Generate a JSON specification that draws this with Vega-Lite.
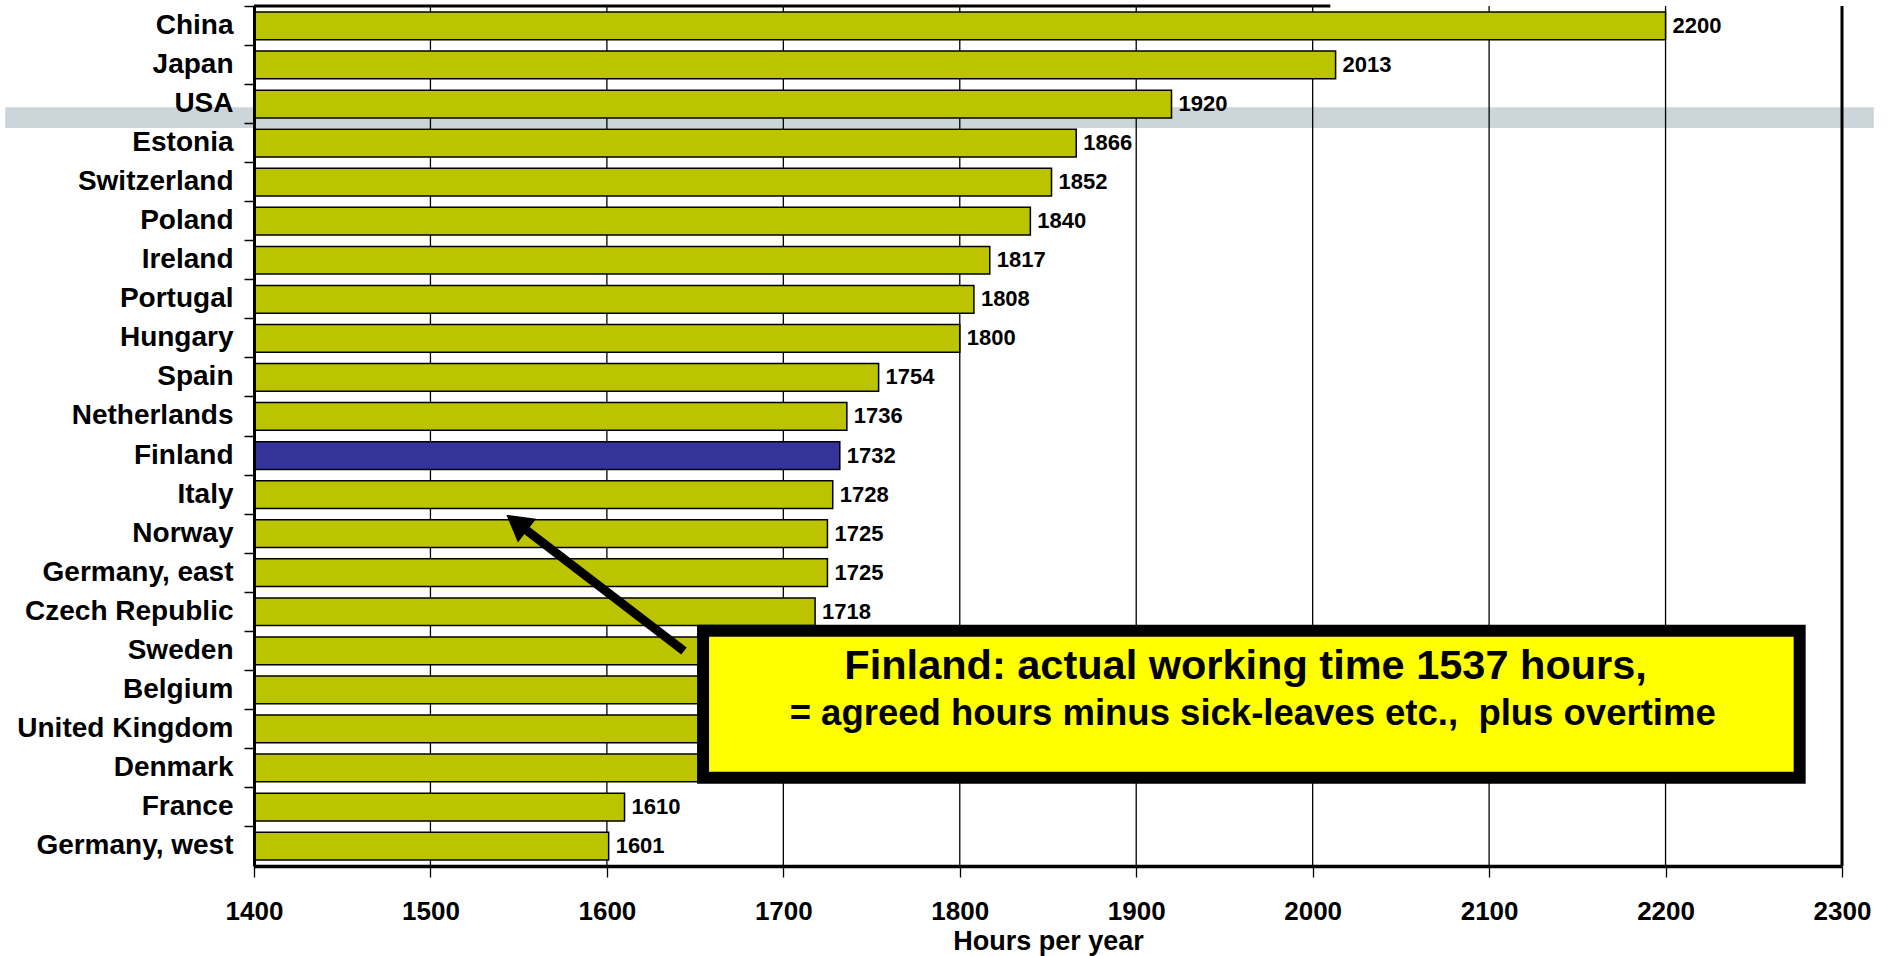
{
  "$schema": "https://vega.github.io/schema/vega-lite/v6.json",
  "width": 1588,
  "height": 860,
  "autosize": {"type": "none"},
  "padding": {"left": 254, "top": 6, "right": 49, "bottom": 90},
  "background": "white",
  "config": {
    "view": {"stroke": null},
    "font": "Liberation Sans",
    "axis": {
      "labelFont": "Liberation Sans",
      "titleFont": "Liberation Sans",
      "labelFontWeight": "bold",
      "titleFontWeight": "bold",
      "labelColor": "black",
      "titleColor": "black",
      "domainColor": "black",
      "tickColor": "black",
      "grid": false,
      "zindex": 1
    },
    "axisX": {
      "tickSize": 11,
      "tickWidth": 1.3,
      "domainWidth": 3.5,
      "labelFontSize": 26,
      "labelPadding": 21,
      "labelFlush": false,
      "labelOverlap": false,
      "titleFontSize": 27,
      "titlePadding": 4
    },
    "axisY": {
      "tickSize": 10,
      "tickWidth": 1.5,
      "domainWidth": 3,
      "labelFontSize": 28,
      "labelPadding": 11,
      "bandPosition": -0.204,
      "labelLimit": 400
    }
  },
  "datasets": {
    "hours": [
      {"country": "China", "hours": 2200, "group": "other"},
      {"country": "Japan", "hours": 2013, "group": "other"},
      {"country": "USA", "hours": 1920, "group": "other"},
      {"country": "Estonia", "hours": 1866, "group": "other"},
      {"country": "Switzerland", "hours": 1852, "group": "other"},
      {"country": "Poland", "hours": 1840, "group": "other"},
      {"country": "Ireland", "hours": 1817, "group": "other"},
      {"country": "Portugal", "hours": 1808, "group": "other"},
      {"country": "Hungary", "hours": 1800, "group": "other"},
      {"country": "Spain", "hours": 1754, "group": "other"},
      {"country": "Netherlands", "hours": 1736, "group": "other"},
      {"country": "Finland", "hours": 1732, "group": "Finland"},
      {"country": "Italy", "hours": 1728, "group": "other"},
      {"country": "Norway", "hours": 1725, "group": "other"},
      {"country": "Germany, east", "hours": 1725, "group": "other"},
      {"country": "Czech Republic", "hours": 1718, "group": "other"},
      {"country": "Sweden", "hours": 1714, "group": "other"},
      {"country": "Belgium", "hours": 1688, "group": "other"},
      {"country": "United Kingdom", "hours": 1673, "group": "other"},
      {"country": "Denmark", "hours": 1665, "group": "other"},
      {"country": "France", "hours": 1610, "group": "other"},
      {"country": "Germany, west", "hours": 1601, "group": "other"}
    ],
    "grid": [
      {"h": 1500}, {"h": 1600}, {"h": 1700}, {"h": 1800},
      {"h": 1900}, {"h": 2000}, {"h": 2100}, {"h": 2200}
    ]
  },
  "layer": [
    {
      "layer": [
        {
          "data": {"values": [{}]},
          "mark": {"type": "rect", "color": "#CCD5DA"},
          "encoding": {
            "x": {"datum": 1259, "type": "quantitative", "scale": {"domain": [1400, 2300], "nice": false, "zero": false}, "title": "Hours per year", "axis": {"values": [1400, 1500, 1600, 1700, 1800, 1900, 2000, 2100, 2200, 2300], "format": "d", "zindex": 2}},
            "x2": {"datum": 2318},
            "y": {"datum": 2.59, "type": "quantitative", "scale": {"domain": [0, 22], "reverse": true, "nice": false, "zero": false}, "axis": null},
            "y2": {"datum": 3.12}
          }
        },
        {
          "data": {"name": "grid"},
          "mark": {"type": "rule", "color": "black", "strokeWidth": 1.3},
          "encoding": {
            "x": {"field": "h", "type": "quantitative", "title": "Hours per year"}
          }
        },
        {
          "data": {"values": [{"h": 2300}]},
          "mark": {"type": "rule", "color": "black", "strokeWidth": 3},
          "encoding": {
            "x": {"field": "h", "type": "quantitative", "title": "Hours per year"}
          }
        }
      ]
    },
    {
      "data": {"name": "hours"},
      "layer": [
        {
          "mark": {"type": "bar", "stroke": "black", "strokeWidth": 1.5},
          "encoding": {
            "y": {"field": "country", "type": "nominal", "sort": null, "scale": {"paddingInner": 0.29, "paddingOuter": 0.155}, "axis": {"title": null, "zindex": 2}},
            "x": {"field": "hours", "type": "quantitative", "title": "Hours per year", "axis": {"values": [1400, 1500, 1600, 1700, 1800, 1900, 2000, 2100, 2200, 2300], "format": "d", "zindex": 2}},
            "x2": {"datum": 1400},
            "color": {"field": "group", "type": "nominal", "scale": {"domain": ["other", "Finland"], "range": ["#BCC400", "#333399"]}, "legend": null}
          }
        },
        {
          "transform": [{"filter": {"not": {"field": "country", "oneOf": ["Sweden", "Belgium", "United Kingdom", "Denmark"]}}}],
          "mark": {"type": "text", "align": "left", "baseline": "middle", "dx": 7, "fontSize": 22, "fontWeight": "bold", "color": "black", "font": "Liberation Sans"},
          "encoding": {
            "y": {"field": "country", "type": "nominal", "sort": null},
            "x": {"field": "hours", "type": "quantitative", "title": "Hours per year"},
            "text": {"field": "hours", "type": "quantitative", "format": "d"}
          }
        }
      ]
    },
    {
      "layer": [
        {
          "data": {"values": [{}]},
          "mark": {"type": "rule", "color": "black", "strokeWidth": 3},
          "encoding": {
            "x": {"datum": 1400, "type": "quantitative", "title": "Hours per year"},
            "x2": {"datum": 2010},
            "y": {"datum": 0, "type": "quantitative", "scale": {"domain": [0, 22], "reverse": true, "nice": false, "zero": false}, "axis": null}
          }
        },
        {
          "data": {"values": [{}]},
          "mark": {"type": "rule", "color": "black", "strokeWidth": 9, "strokeCap": "butt"},
          "encoding": {
            "x": {"datum": 1643.7, "type": "quantitative", "title": "Hours per year"},
            "x2": {"datum": 1548.9},
            "y": {"datum": 16.5, "type": "quantitative", "scale": {"domain": [0, 22], "reverse": true, "nice": false, "zero": false}, "axis": null},
            "y2": {"datum": 13.22}
          }
        },
        {
          "data": {"values": [{}]},
          "mark": {"type": "point", "shape": "triangle-up", "size": 900, "angle": 307.4, "filled": true, "color": "black", "opacity": 1},
          "encoding": {
            "x": {"datum": 1548.9, "type": "quantitative", "title": "Hours per year"},
            "y": {"datum": 13.22, "type": "quantitative", "scale": {"domain": [0, 22], "reverse": true, "nice": false, "zero": false}, "axis": null}
          }
        },
        {
          "data": {"values": [{}]},
          "mark": {"type": "rect", "fill": "#FFFF00", "stroke": "black", "strokeWidth": 12},
          "encoding": {
            "x": {"datum": 1654.5, "type": "quantitative", "title": "Hours per year"},
            "x2": {"datum": 2276},
            "y": {"datum": 15.98, "type": "quantitative", "scale": {"domain": [0, 22], "reverse": true, "nice": false, "zero": false}, "axis": null},
            "y2": {"datum": 19.74}
          }
        },
        {
          "data": {"values": [{}]},
          "mark": {"type": "text", "text": "Finland: actual working time 1537 hours,", "align": "center", "baseline": "middle", "fontSize": 41.5, "fontWeight": "bold", "font": "Liberation Sans", "color": "black"},
          "encoding": {
            "x": {"datum": 1962, "type": "quantitative", "title": "Hours per year"},
            "y": {"datum": 16.92, "type": "quantitative", "scale": {"domain": [0, 22], "reverse": true, "nice": false, "zero": false}, "axis": null}
          }
        },
        {
          "data": {"values": [{}]},
          "mark": {"type": "text", "text": "= agreed hours minus sick-leaves etc.,\u00a0 plus overtime", "align": "center", "baseline": "middle", "fontSize": 36.5, "fontWeight": "bold", "font": "Liberation Sans", "color": "black"},
          "encoding": {
            "x": {"datum": 1966, "type": "quantitative", "title": "Hours per year"},
            "y": {"datum": 18.12, "type": "quantitative", "scale": {"domain": [0, 22], "reverse": true, "nice": false, "zero": false}, "axis": null}
          }
        }
      ]
    }
  ],
  "resolve": {"scale": {"y": "independent"}, "axis": {"y": "independent"}}
}
